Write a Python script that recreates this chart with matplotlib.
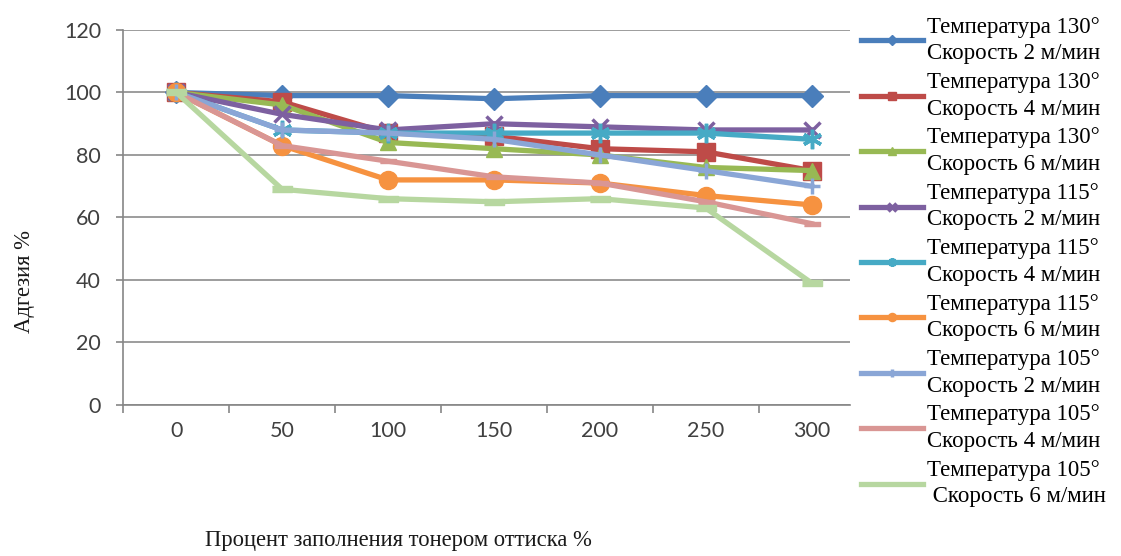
import matplotlib
matplotlib.use("Agg")
import matplotlib.pyplot as plt
import numpy as np

categories = ["0", "50", "100", "150", "200", "250", "300"]
series_labels = [
    "Температура 130°\nСкорость 2 м/мин",
    "Температура 130°\nСкорость 4 м/мин",
    "Температура 130°\nСкорость 6 м/мин",
    "Температура 115°\nСкорость 2 м/мин",
    "Температура 115°\nСкорость 4 м/мин",
    "Температура 115°\nСкорость 6 м/мин",
    "Температура 105°\nСкорость 2 м/мин",
    "Температура 105°\nСкорость 4 м/мин",
    "Температура 105°\n Скорость 6 м/мин",
]
t130_v2 = [100, 99, 99, 98, 99, 99, 99]
t130_v4 = [100, 97, 87, 86, 82, 81, 75]
t130_v6 = [100, 96, 84, 82, 80, 76, 75]
t115_v2 = [100, 93, 88, 90, 89, 88, 88]
t115_v4 = [100, 88, 87, 87, 87, 87, 85]
t115_v6 = [100, 83, 72, 72, 71, 67, 64]
t105_v2 = [100, 88, 87, 85, 80, 75, 70]
t105_v4 = [100, 83, 78, 73, 71, 65, 58]
t105_v6 = [100, 69, 66, 65, 66, 63, 39]
series_values = [t130_v2, t130_v4, t130_v6, t115_v2, t115_v4, t115_v6,
                 t105_v2, t105_v4, t105_v6]

colors = ["#4A7EBB", "#BE4B48", "#98B954", "#7D60A0", "#46AAC5", "#F69240",
          "#8AA6D6", "#D99694", "#B7D7A0"]
dash_marker = [(-1, -0.32), (1, -0.32), (1, 0.32), (-1, 0.32)]
markers = ["D", "s", "^", "x", (6, 2, 0), "o", "+", dash_marker, dash_marker]
msizes = [11, 13, 12, 12, 14, 13, 12, 11, 14]

fig = plt.figure(figsize=(11.21, 5.56), dpi=100)
ax = fig.add_axes([0.110, 0.272, 0.648, 0.674])

x = np.arange(len(categories))
handles = []
for vals, lab, c, m, ms in zip(series_values, series_labels, colors, markers, msizes):
    mew = 2.5 if m in ("x", "+") or isinstance(m, tuple) else 1
    h, = ax.plot(x, vals, color=c, lw=3.8, marker=m, markersize=ms,
                 markerfacecolor=c, markeredgecolor=c, markeredgewidth=mew,
                 solid_joinstyle="round", label=lab)
    handles.append(h)

ax.set_xlim(-0.5, 6.36)
ax.set_ylim(0, 120)
ax.set_yticks(np.arange(0, 121, 20))
ax.set_xticks(x)
ax.set_xticklabels(categories)
ax.set_xticks(np.arange(-0.5, 6.0, 1.0), minor=True)
ax.tick_params(axis="x", which="major", length=0, pad=12)
ax.tick_params(axis="x", which="minor", length=6, color="#868686", width=1.2)
ax.tick_params(axis="y", length=5, color="#868686", width=1.2, pad=11)
for lbl in ax.get_xticklabels() + ax.get_yticklabels():
    lbl.set_fontfamily("Lato")
    lbl.set_fontsize(15.5)
    lbl.set_color("#404040")

ax.yaxis.grid(True, color="#8C8C8C", lw=1.2)
ax.set_axisbelow(True)
for s in ["top", "right"]:
    ax.spines[s].set_visible(False)
for s in ["left", "bottom"]:
    ax.spines[s].set_color("#868686")
    ax.spines[s].set_linewidth(1.2)

fig.text(0.355, 0.027, "Процент заполнения тонером оттиска %",
         family="Liberation Serif", fontsize=16.3, color="#1a1a1a",
         ha="center", va="center")
fig.text(0.022, 0.493, "Адгезия %", family="Liberation Serif", fontsize=16.3,
         color="#1a1a1a", rotation=90, ha="center", va="center")

leg = fig.legend(handles=handles, loc="upper left",
                 bbox_to_anchor=(0.768, 0.970), frameon=False,
                 prop={"family": "Liberation Serif", "size": 16.5},
                 handlelength=2.7, handletextpad=0.2, labelspacing=0.34,
                 markerscale=0.45, borderaxespad=0, borderpad=0)
for t in leg.get_texts():
    t.set_linespacing(1.35)

fig.savefig("out.png", dpi=100)
